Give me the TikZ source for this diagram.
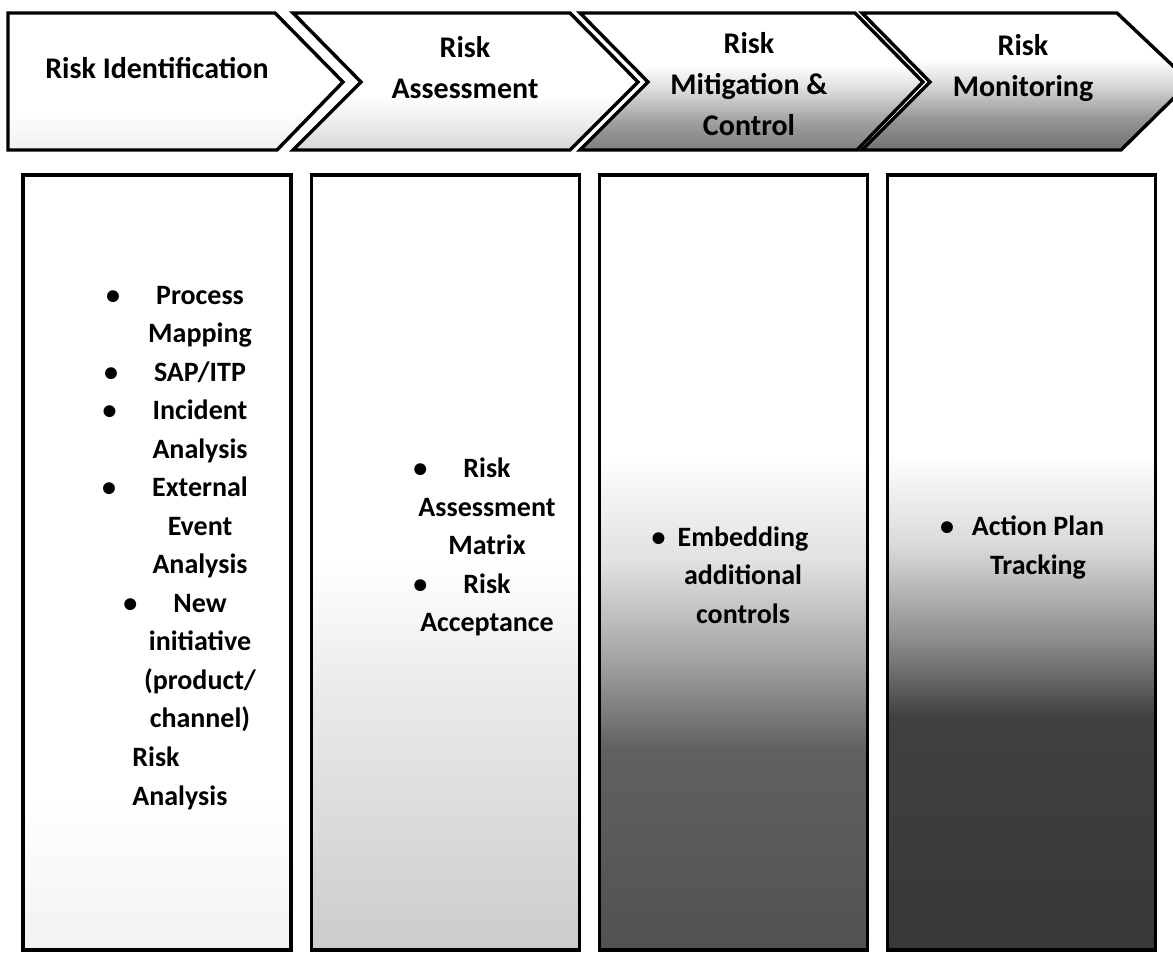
\documentclass[tikz,border=0pt]{standalone}
\usepackage{fontspec}
\setmainfont{Carlito}
\usetikzlibrary{positioning}

% fades from white (top) to grey (bottom), darker for later stages
\pgfdeclareverticalshading{chevone}{100bp}{color(0bp)=(black!6); color(25bp)=(black!6); color(40bp)=(white); color(100bp)=(white)}
\pgfdeclareverticalshading{chevtwo}{100bp}{color(0bp)=(black!16); color(25bp)=(black!16); color(33bp)=(black!9); color(45bp)=(white); color(100bp)=(white)}
\pgfdeclareverticalshading{chevthree}{100bp}{color(0bp)=(black!50); color(25bp)=(black!50); color(35bp)=(black!38); color(48bp)=(black!12); color(56bp)=(white); color(100bp)=(white)}
\pgfdeclareverticalshading{chevfour}{100bp}{color(0bp)=(black!55); color(25bp)=(black!55); color(36bp)=(black!42); color(49bp)=(black!15); color(58bp)=(white); color(100bp)=(white)}
\pgfdeclareverticalshading{colone}{100bp}{color(0bp)=(black!5); color(25bp)=(black!5); color(35bp)=(white); color(100bp)=(white)}
\pgfdeclareverticalshading{coltwo}{100bp}{color(0bp)=(black!20); color(25bp)=(black!20); color(42bp)=(black!8); color(50bp)=(white); color(100bp)=(white)}
\pgfdeclareverticalshading{colthree}{100bp}{color(0bp)=(black!68); color(25bp)=(black!68); color(38bp)=(black!62); color(44bp)=(black!35); color(50bp)=(black!12); color(57bp)=(white); color(100bp)=(white)}
\pgfdeclareverticalshading{colfour}{100bp}{color(0bp)=(black!78); color(25bp)=(black!78); color(40bp)=(black!75); color(45bp)=(black!45); color(51bp)=(black!15); color(57bp)=(white); color(100bp)=(white)}

\begin{document}
\begin{tikzpicture}[
    x=0.5pt, y=-0.5pt,
    node distance=8.5pt,
    every node/.style={align=center},
    chev/.style={
        draw=black,
        line width=1.7pt,
        line join=miter
    },
    colbox/.style={
        draw=black,
        line width=1.6pt,
        minimum width=134pt,
        minimum height=387.5pt,
        inner sep=0pt
    },
    head/.style={
        font=\fontsize{15}{20.5}\selectfont\bfseries,
        inner sep=0pt
    },
    item/.style={
        font=\fontsize{14}{19.25}\selectfont\bfseries,
        inner sep=0pt
    }
]
\useasboundingbox (0,0) rectangle (1173,957);
\clip (0,0) rectangle (1173,957);
\fill[white] (0,0) rectangle (1173,957);

% process chevrons
\draw[chev, shading=chevone]
    (8,13) -- (275,13) -- (343,82) -- (277,150) -- (8,150) -- cycle;
\draw[chev, shading=chevtwo]
    (293,13) -- (570,13) -- (638,82) -- (570,150) -- (293,150) -- (361,82) -- cycle;
\draw[chev, shading=chevthree]
    (580,13) -- (855,13) -- (923,82) -- (857,150) -- (580,150) -- (648,82) -- cycle;
\draw[chev, shading=chevfour]
    (862,13) -- (1117,13) -- (1190,82) -- (1121,150) -- (862,150) -- (930,82) -- cycle;

\node[head] (identify) at (157,68) {Risk Identification};
\node[head] (assess) at (465,67.5) {Risk\\Assessment};
\node[head] (mitigate) at (749,84) {Risk\\Mitigation \&\\Control};
\node[head] (monitor) at (1023,68) {Risk\\Monitoring};

% columns below
\node[colbox, shading=colone] (col1) at (157,562.5) {};
\node[colbox, shading=coltwo, right=of col1] (col2) {};
\node[colbox, shading=colthree, right=of col2] (col3) {};
\node[colbox, shading=colfour, right=of col3] (col4) {};

\node[item] (idlist) at (200,509) {%
    \llap{\textbullet\hspace{18pt}}Process\\Mapping\\
    \llap{\textbullet\hspace{18pt}}SAP/ITP\\
    \llap{\textbullet\hspace{18pt}}Incident\\Analysis\\
    \llap{\textbullet\hspace{18pt}}External\\Event\\Analysis\\
    \llap{\textbullet\hspace{18pt}}New\\initiative\\(product/\\channel)};
\node[item, align=left, anchor=west] (idrisk) at (132,778.5) {Risk\\Analysis};

\node[item] (aslist) at (487,547) {%
    \llap{\textbullet\hspace{18pt}}Risk\\Assessment\\Matrix\\
    \llap{\textbullet\hspace{18pt}}Risk\\Acceptance};

\node[item] (mclist) at (743,575) {%
    \llap{\textbullet\hspace{6pt}}Embedding\\additional\\controls};

\node[item] (mnlist) at (1038,547.5) {%
    \llap{\textbullet\hspace{9pt}}Action Plan\\Tracking};
\end{tikzpicture}
\end{document}
